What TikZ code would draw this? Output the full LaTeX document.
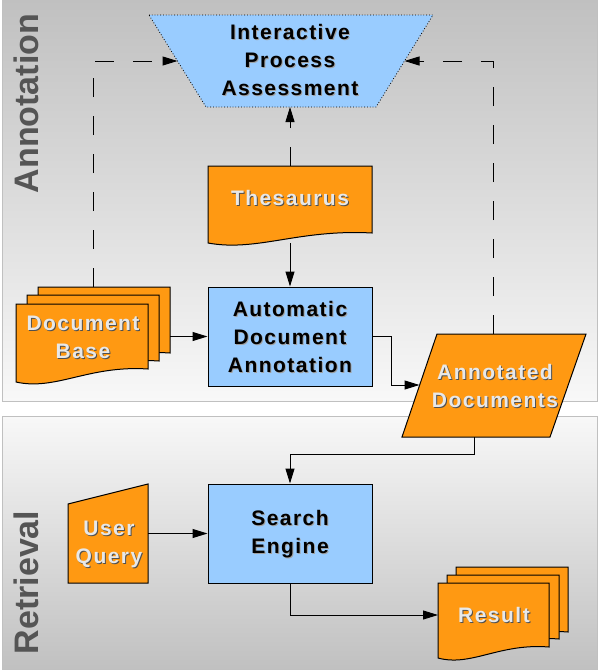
\documentclass[tikz,border=0pt]{standalone}
\usepackage{fontspec}
\setmainfont{Liberation Sans}
\newfontfamily\boxfont{Liberation Sans}[LetterSpace=7]
\usetikzlibrary{arrows.meta,calc}
\definecolor{orng}{HTML}{FF9912}
\definecolor{lblue}{HTML}{99CCFF}
\definecolor{pdark}{HTML}{C0C0C0}
\definecolor{plight}{HTML}{F8F8F8}
\definecolor{lbltxt}{HTML}{555555}
\definecolor{wtxt}{HTML}{E8E8E8}
\definecolor{wshadow}{HTML}{505050}
\definecolor{bshadow}{HTML}{A0A0A0}
\tikzset{
  conn/.style={draw=black, line width=1pt, -{Triangle[length=15pt,width=9pt]}},
  dconn/.style={conn, dash pattern=on 19pt off 19pt},
  procbox/.style={draw=black, fill=lblue, line width=1pt, minimum width=164pt, minimum height=99pt, inner sep=0pt},
  orshape/.style={draw=black, fill=orng, line width=1pt},
  framebox/.style={inner sep=0pt, outer sep=0pt},
  btxt/.style={font=\boxfont\bfseries\fontsize{21}{28}\selectfont, align=center, inner sep=0pt},
  lbl/.style={font=\bfseries\fontsize{34}{40}\selectfont, text=lbltxt, rotate=90, anchor=base, inner sep=0pt},
  panel/.style={draw=pdark, line width=1pt}
}
% doc shape: left, top, right, bottom-left, bottom-right
\newcommand{\docshape}[5]{%
  \draw[orshape] (#1,#2) -- (#3,#2) -- (#3,#5)
    .. controls ($(#1,#5)!0.55!(#3,#5)+(0,-4)$) and ($(#1,#4)!0.3!(#3,#4)+(0,9)$) .. (#1,#4) -- cycle;}
\newcommand{\shtxt}[5]{% name, x, y, color, shadowcolor, text
  \node[btxt, text=#5] (#1s) at (#2+1,#3+1) {\ShTxt};
  \node[btxt, text=#4] (#1) at (#2,#3) {\ShTxt};}
\begin{document}
\begin{tikzpicture}[x=1pt,y=-1pt]
\useasboundingbox (0,0) rectangle (598,670);
\fill[white] (0,0) rectangle (598,670);
% panels
\shade[top color=pdark, bottom color=plight] (2,-1) rectangle (597,401);
\draw[panel] (2,-1) rectangle (597,401);
\shade[top color=plight, bottom color=pdark] (2,416) rectangle (597,671);
\draw[panel] (2,416) rectangle (597,671);
\node[lbl] (lblA) at (38,103.5) {Annotation};
\node[lbl] (lblR) at (38,582.5) {Retrieval};

% frames (named regions)
\node[framebox, minimum width=164pt, minimum height=77pt] (thes) at (290,204.5) {};
\node[framebox, minimum width=132pt, minimum height=66pt] (docbase3) at (104,320) {};
\node[framebox, minimum width=80pt, minimum height=99pt] (uq) at (108,533.5) {};
\coordinate (ipaL) at (177.5,61);
\coordinate (ipaR) at (404.5,61);
\coordinate (ipaB) at (290,107);
\coordinate (annotL) at (419.5,385);
\coordinate (annotT) at (493,334);
\coordinate (annotB) at (474,437);
\coordinate (dbtop) at (93,287);
\coordinate (resL) at (438,615);

% shapes
\draw[fill=lblue, draw=black, line width=0.8pt, dotted] (149,15) -- (433,15) -- (376,107) -- (206,107) -- cycle;
\docshape{208}{166}{372}{243}{233}
\docshape{38}{287}{170}{366}{353}
\docshape{27}{295}{159}{374}{361}
\docshape{16}{304}{148}{382}{369}
\node[procbox] (ada) at (290,336.5) {};
\draw[orshape] (437,334) -- (586,334) -- (550,437) -- (402,437) -- cycle;
\draw[orshape] (68,504) -- (148,484) -- (148,583) -- (68,583) -- cycle;
\node[procbox] (se) at (290,533.5) {};
\docshape{456}{567}{568}{643}{632}
\docshape{447}{575}{559}{650}{639}
\docshape{438}{583}{549}{658}{647}

% connectors
\draw[dconn] (thes.north) -- (ipaB);
\draw[conn] (thes.south) -- (ada.north);
\draw[conn] (docbase3.east |- ada.west) -- (ada.west);
\draw[dconn] (dbtop) |- (ipaL);
\draw[conn] (ada.east) -- ++(19,0) |- (annotL);
\draw[dconn] (annotT) |- (ipaR);
\draw[conn] (annotB) -- ++(0,17) -| (se.north);
\draw[conn] (uq.east |- se.west) -- (se.west);
\draw[conn] (se.south) |- (resL);

% texts
\def\ShTxt{Interactive\\Process\\Assessment}\shtxt{ipa}{290}{60}{black}{bshadow}
\def\ShTxt{Thesaurus}\shtxt{thest}{290}{198}{wtxt}{wshadow}
\def\ShTxt{Automatic\\Document\\Annotation}\shtxt{adat}{290}{336.5}{black}{bshadow}
\def\ShTxt{Document\\Base}\shtxt{dbt}{83}{337}{wtxt}{wshadow}
\def\ShTxt{Annotated\\Documents}\shtxt{annt}{495}{386}{wtxt}{wshadow}
\def\ShTxt{Search\\Engine}\shtxt{set}{290}{534}{black}{bshadow}
\def\ShTxt{User\\Query}\shtxt{uqt}{109}{544}{wtxt}{wshadow}
\def\ShTxt{Result}\shtxt{rest}{494}{615}{wtxt}{wshadow}
\end{tikzpicture}
\end{document}
